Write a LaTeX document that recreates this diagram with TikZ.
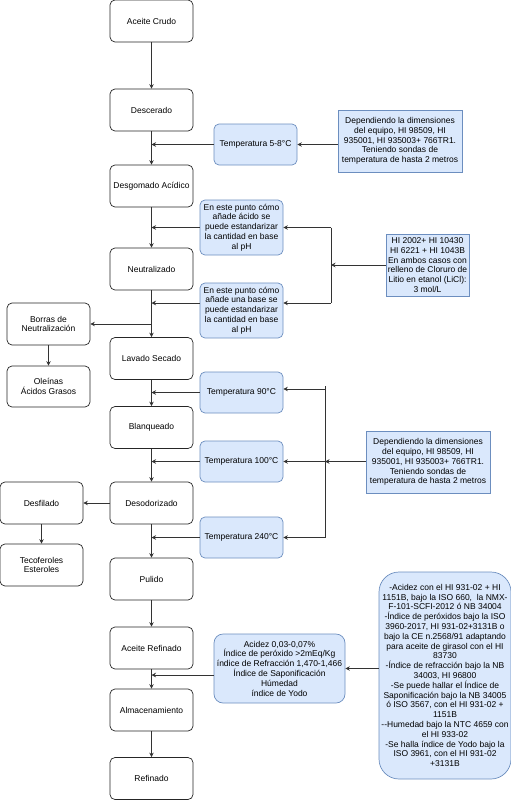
\documentclass[tikz,border=0pt]{standalone}
\usepackage{fontspec}
\setmainfont{Liberation Sans}
\usetikzlibrary{arrows.meta,positioning,calc}
\definecolor{bfill}{HTML}{DAE8FC}
\definecolor{bdraw}{HTML}{6C8EBF}
\definecolor{lcol}{HTML}{333333}
\begin{document}
\begin{tikzpicture}[x=1pt,y=-1pt,
  every node/.style={font=\fontsize{8.5}{9.8}\selectfont, align=center, inner sep=0pt},
  proc/.style={draw=black!85, line width=0.7pt, fill=white, rounded corners=5pt, minimum width=83pt, minimum height=42pt},
  bluer/.style={draw=bdraw, line width=0.7pt, fill=bfill, rounded corners=5pt, minimum width=83pt, minimum height=41pt},
  bluesq/.style={draw=bdraw, line width=0.7pt, fill=bfill, minimum width=124pt, minimum height=62pt},
  arr/.style={draw=lcol, line width=0.7pt, -{Stealth[length=4.5pt,width=4.5pt]}},
  ln/.style={draw=lcol, line width=0.7pt}]
\useasboundingbox (0,0) rectangle (511,800);
% main column
\node[proc] (crudo) at (151.5,21) {Aceite Crudo};
\node[proc] (desc) at (151.5,110) {Descerado};
\node[proc] (desg) at (151.5,186) {Desgomado Acídico};
\node[proc] (neut) at (151.5,269) {Neutralizado};
\node[proc] (lav) at (151.5,358.5) {Lavado Secado};
\node[proc] (blan) at (151.5,427.5) {Blanqueado};
\node[proc] (deso) at (151.5,503) {Desodorizado};
\node[proc] (pul) at (151.5,579) {Pulido};
\node[proc] (aref) at (151.5,648) {Aceite Refinado};
\node[proc] (alm) at (151.5,710) {Almacenamiento};
\node[proc] (ref) at (151.5,778.5) {Refinado};
% left side
\node[proc] (borras) at (48.5,324) {Borras de\\Neutralización};
\node[proc, minimum height=41pt] (oleinas) at (48.5,386.5) {Oleínas\\Ácidos Grasos};
\node[proc] (desf) at (41.5,503) {Desfilado};
\node[proc] (teco) at (41.5,565) {Tecoferoles\\Esteroles};
% blue side nodes
\node[bluer] (t58) at (255.5,144.5) {Temperatura 5-8°C};
\node[bluesq] (dep1) at (400,141) {Dependiendo la dimensiones\\del equipo, HI 98509, HI\\935001, HI 935003+ 766TR1.\\Teniendo sondas de\\temperatura de hasta 2 metros};
\node[bluer, minimum height=55pt] (acid1) at (241.5,227.5) {En este punto cómo\\añade ácido se\\puede estandarizar\\la cantidad en base\\al pH};
\node[bluer, minimum height=55pt] (base1) at (241.5,310.5) {En este punto cómo\\añade una base se\\puede estandarizar\\la cantidad en base\\al pH};
\node[bluesq, minimum width=83pt] (hi) at (427.5,265) {HI 2002+ HI 10430\\HI 6221 + HI 1043B\\En ambos casos con\\relleno de Cloruro de\\Litio en etanol (LiCl):\\3 mol/L};
\node[bluer] (t90) at (241.5,392.5) {Temperatura 90°C};
\node[bluer] (t100) at (241.5,461.5) {Temperatura 100°C};
\node[bluer] (t240) at (241.5,537.5) {Temperatura 240°C};
\node[bluesq] (dep2) at (428,462) {Dependiendo la dimensiones\\del equipo, HI 98509, HI\\935001, HI 935003+ 766TR1.\\Teniendo sondas de\\temperatura de hasta 2 metros};
\node[bluer, rounded corners=9pt, minimum width=131pt, minimum height=69pt] (acidez) at (279.5,668.5) {Acidez 0,03-0,07\%\\Índice de peróxido >2mEq/Kg\\índice de Refracción 1,470-1,466\\Índice de Saponificación\\Húmedad\\índice de Yodo};
\node[bluer, rounded corners=20pt, minimum width=132pt, minimum height=207pt] (big) at (445,675.5) {-Acidez con el HI 931-02 + HI\\1151B, bajo la ISO 660,\ \ la NMX-\\F-101-SCFI-2012 ó NB 34004\\-Índice de peróxidos bajo la ISO\\3960-2017, HI 931-02+3131B o\\bajo la CE n.2568/91 adaptando\\para aceite de girasol con el HI\\83730\\-Índice de refracción bajo la NB\\34003, HI 96800\\-Se puede hallar el Índice de\\Saponificación bajo la NB 34005\\ó ISO 3567, con el HI 931-02 +\\1151B\\{-}{-}Humedad bajo la NTC 4659 con\\el HI 933-02\\-Se halla índice de Yodo bajo la\\ISO 3961, con el HI 931-02\\+3131B};
% main arrows
\draw[arr] (crudo) -- (desc);
\draw[arr] (desc) -- (desg);
\draw[arr] (desg) -- (neut);
\draw[arr] (neut) -- (lav);
\draw[arr] (lav) -- (blan);
\draw[arr] (blan) -- (deso);
\draw[arr] (deso) -- (pul);
\draw[arr] (pul) -- (aref);
\draw[arr] (aref) -- (alm);
\draw[arr] (alm) -- (ref);
% left branches
\coordinate (bj) at (151.5,324);
\draw[arr] (bj) -- (borras.east);
\draw[arr] (borras) -- (oleinas);
\draw[arr] (deso) -- (desf);
\draw[arr] (desf) -- (teco);
% side inputs to main line
\draw[arr] (t58.west) -- (t58.west -| desc);
\draw[arr] (dep1.west |- t58) -- (t58.east);
\draw[arr] (acid1.west) -- (acid1.west -| desg);
\coordinate (b1e) at ($(base1.east)+(0,-7.5)$);
\coordinate (b1w) at ($(base1.west)+(0,-7.5)$);
\draw[arr] (b1w) -- (b1w -| neut);
% HI bracket
\coordinate (hj) at (331,265);
\draw[arr] (hi.west) -- (hj);
\coordinate (hjt) at (331,227.5);
\coordinate (hjb) at (331,303);
\draw[ln] (hjt) -- (hjb);
\draw[arr] (hjt) -- (acid1.east);
\draw[arr] (hjb) -- (b1e);
% temperature bracket
\coordinate (tjt) at (325,386);
\coordinate (tj1) at (325,389);
\coordinate (tj2) at (325,461.5);
\coordinate (tj3) at (325,537.5);
\draw[ln] (tjt) -- (tj3);
\draw[arr] (tj1) -- (tj1 -| t90.east);
\draw[arr] (tj2) -- (t100.east);
\draw[arr] (tj3) -- (t240.east);
\draw[arr] (dep2.west |- tj2) -- (tj2);
\draw[arr] (t90.west) -- (t90.west -| lav);
\draw[arr] (t100.west) -- (t100.west -| blan);
\draw[arr] (t240.west) -- (t240.west -| deso);
% quality
\coordinate (aw) at ($(acidez.west)+(0,6.5)$);
\draw[arr] (aw) -- (aw -| aref);
\draw[arr] (big.west |- acidez) -- (acidez.east);
\end{tikzpicture}
\end{document}
